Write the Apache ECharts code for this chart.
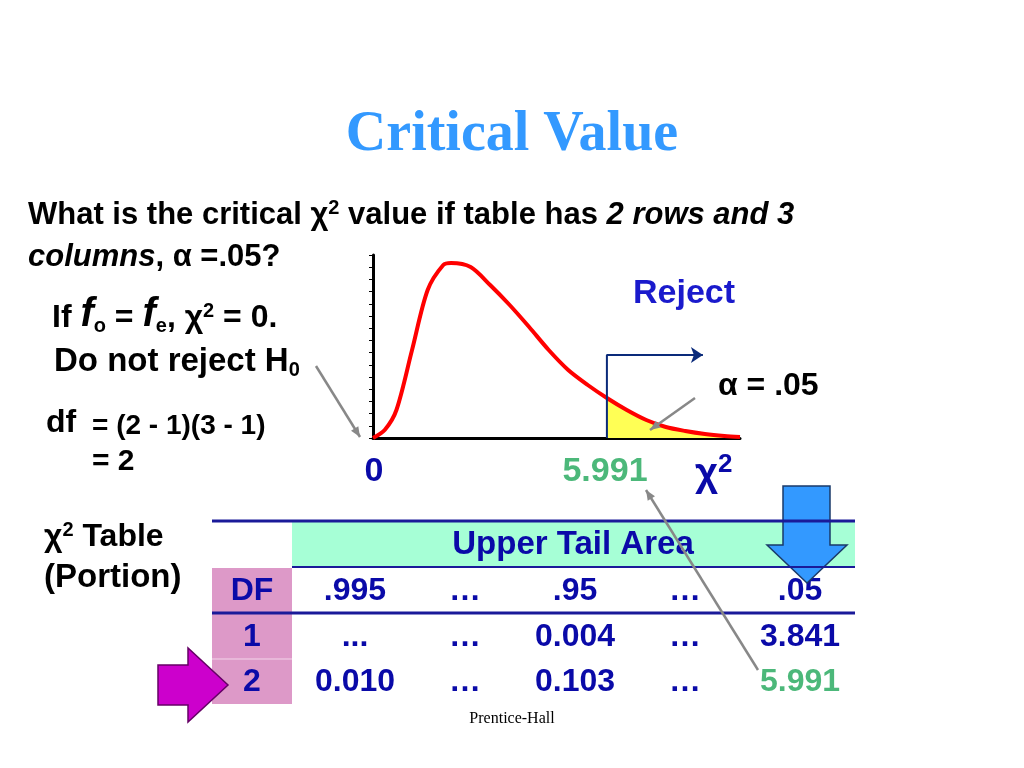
<!DOCTYPE html>
<html>
<head>
<meta charset="UTF-8">
<script src="https://cdn.jsdelivr.net/npm/echarts@6/dist/echarts.min.js"></script>
<style>html,body{margin:0;background:#fff}#main{width:1024px;height:768px}</style>
</head>
<body>
<div id="main"></div>
<script>
// curve (x in chi-square units, y in arbitrary height)
var curveX = [0, 0.3, 0.6, 1.0, 1.4, 1.8, 2.0, 2.5, 3.0, 3.5, 4.0, 4.5, 5.0, 5.5, 5.991, 6.5, 7.0, 7.5, 8.0, 8.5, 9.0, 9.4];
var curveY = [0, 8, 28, 88, 148, 173, 175, 171, 153, 133, 111, 88, 68, 53, 40, 28, 18, 11, 7, 4, 2, 1];
var critical = 5.991;
var tableHead = ['DF', '.995', '…', '.95', '…', '.05'];
var tableRows = [['1', '...', '…', '0.004', '…', '3.841'], ['2', '0.010', '…', '0.103', '…', '5.991']];

var curve = curveX.map(function (x, i) { return [x, curveY[i]]; });
var tail = curve.filter(function (p) { return p[0] >= critical; });

var blue = '#0a0aa8';
var font = '"Liberation Sans", Arial, sans-serif';
var colX = [252, 355, 465, 575, 685, 800];
var g = [];
function txt(x, y, t, size, extra) {
    var s = {text: t, x: x, y: y, font: 'bold ' + size + 'px ' + font, fill: '#000', textVerticalAlign: 'middle'};
    for (var k in extra) s[k] = extra[k];
    g.push({type: 'text', style: s, z: 20});
}
function rect(x, y, w, h, c) { g.push({type: 'rect', shape: {x: x, y: y, width: w, height: h}, style: {fill: c}, z: 5}); }
function line(x1, y1, x2, y2, c, w) { g.push({type: 'line', shape: {x1: x1, y1: y1, x2: x2, y2: y2}, style: {stroke: c, lineWidth: w}, z: 30}); }

// title and left text
g.push({type: 'text', style: {text: 'Critical Value', x: 512, y: 136, textAlign: 'center', textVerticalAlign: 'middle',
    font: 'bold 56px "Liberation Serif", serif', fill: '#3399ff'}});
var rich = {
    sup: {fontSize: 20, fontWeight: 'bold', padding: [0, 0, 14, 0], fontFamily: font},
    sub: {fontSize: 20, fontWeight: 'bold', padding: [16, 0, 0, 0], fontFamily: font},
    it: {fontStyle: 'italic', fontWeight: 'bold', fontSize: 31, fontFamily: font},
    big: {fontStyle: 'italic', fontWeight: 'bold', fontSize: 40, fontFamily: font, padding: [0, 0, 6, 0]}
};
txt(28, 215, 'What is the critical χ{sup|2} value if table has {it|2 rows and 3}', 31, {rich: rich});
txt(28, 257, '{it|columns}, α =.05?', 31, {rich: rich});
txt(52, 318, 'If {big|f}{sub|o} = {big|f}{sub|e}, χ{sup|2} = 0.', 32, {rich: rich});
txt(54, 362, 'Do not reject H{sub|0}', 33, {rich: rich});
txt(46, 423, 'df', 32);
txt(92, 426, '= (2 - 1)(3 - 1)', 28);
txt(92, 462, '= 2', 30);
txt(44, 537, 'χ{sup|2} Table', 32, {rich: rich});
txt(44, 578, '(Portion)', 33);

// chart annotations
txt(684, 294, 'Reject', 34, {fill: '#1a1acc', textAlign: 'center'});
txt(718, 386, 'α = .05', 32);
txt(374, 472, '0', 34, {fill: blue, textAlign: 'center'});
txt(605, 472, '5.991', 34, {fill: '#4cb87a', textAlign: 'center'});
txt(695, 475, 'χ{s|2}', 40, {fill: blue,
    rich: {s: {fontSize: 26, fontWeight: 'bold', fill: blue, padding: [0, 0, 20, 0], fontFamily: font}}});

// table
rect(292, 522, 563, 45, '#a6ffd6');
rect(212, 568, 80, 136, '#dd99c8');
line(212, 521, 855, 521, '#1a1a99', 3);
line(292, 567, 855, 567, '#1a1a99', 2);
line(212, 613, 855, 613, '#1a1a99', 3);
g.push({type: 'line', shape: {x1: 212, y1: 659, x2: 292, y2: 659}, style: {stroke: '#f3d6ea', lineWidth: 1}, z: 6});
txt(573, 545, 'Upper Tail Area', 33, {fill: blue, textAlign: 'center'});
tableHead.forEach(function (t, i) { txt(colX[i], 591, t, 32, {fill: blue, textAlign: 'center'}); });
tableRows.forEach(function (r, j) {
    r.forEach(function (t, i) {
        var last = j === 1 && i === 5;
        txt(colX[i], 637 + j * 45, t, 32, {fill: last ? '#4cb87a' : blue, textAlign: 'center'});
    });
});
txt(512, 719, 'Prentice-Hall', 16, {font: '16px "Liberation Serif", serif', textAlign: 'center'});

// arrows
g.push({type: 'polygon', shape: {points: [[783, 486], [830, 486], [830, 545], [847, 545], [807, 583], [767, 545], [783, 545]]},
    style: {fill: '#3399ff', stroke: '#1a3a6a', lineWidth: 1.5}, z: 25});
g.push({type: 'polygon', shape: {points: [[158, 665], [188, 665], [188, 648], [228, 685], [188, 722], [188, 705], [158, 705]]},
    style: {fill: '#cc00cc', stroke: '#660066', lineWidth: 1.5}, z: 25});
function arrow(x1, y1, x2, y2) {
    line(x1, y1, x2, y2, '#888', 2.5);
    var a = Math.atan2(y2 - y1, x2 - x1), L = 11;
    g.push({type: 'polygon', shape: {points: [[x2, y2], [x2 - L * Math.cos(a - 0.4), y2 - L * Math.sin(a - 0.4)], [x2 - L * Math.cos(a + 0.4), y2 - L * Math.sin(a + 0.4)]]},
        style: {fill: '#888'}, z: 30});
}
arrow(316, 366, 360, 437);
arrow(695, 398, 650, 430);
arrow(758, 670, 646, 490);

var chart = echarts.init(document.getElementById('main'));
var option = {
    backgroundColor: '#fff',
    animation: false,
    grid: {left: 373, right: 284, top: 255, bottom: 330},
    xAxis: {type: 'value', min: 0, max: 9.4, splitLine: {show: false},
        axisLine: {lineStyle: {color: '#000', width: 3}}, axisTick: {show: false}, axisLabel: {show: false}},
    yAxis: {type: 'value', min: 0, max: 183, interval: 12.2, splitLine: {show: false},
        axisLine: {show: true, lineStyle: {color: '#000', width: 3}},
        axisTick: {show: true, length: 4, lineStyle: {color: '#000'}}, axisLabel: {show: false}},
    series: [
        {type: 'line', data: tail, smooth: 0.3, symbol: 'none', lineStyle: {width: 0},
            areaStyle: {color: '#ffff55', opacity: 1}, z: 2},
        {type: 'line', data: curve, smooth: 0.3, symbol: 'none', lineStyle: {color: '#ff0000', width: 4}, z: 3},
        {type: 'line', data: [[critical, 0], [critical, 83], [8.3, 83]], symbol: 'none',
            lineStyle: {color: '#0a2a7a', width: 2}, z: 4,
            markLine: {silent: true, symbol: ['none', 'arrow'], symbolSize: 12, lineStyle: {color: '#0a2a7a', width: 2, type: 'solid'},
                label: {show: false}, data: [[{coord: [8.0, 83]}, {coord: [8.45, 83]}]]}}
    ],
    graphic: g
};
chart.setOption(option);
</script>
</body>
</html>
